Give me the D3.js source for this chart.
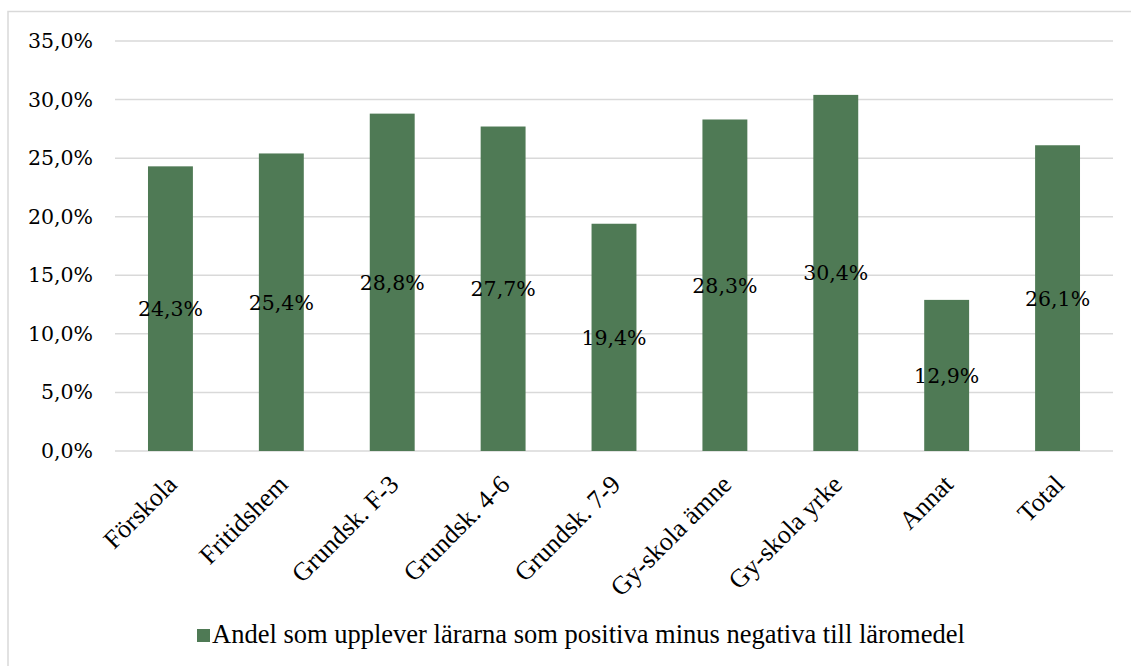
<!DOCTYPE html>
<html><head><meta charset="utf-8">
<script src="https://cdn.jsdelivr.net/npm/d3@7"></script>
<style>body{margin:0;background:#fff}svg{display:block}</style>
</head><body>
<svg id="c" width="1131" height="666"></svg>
<script>
const categories = ["Förskola","Fritidshem","Grundsk. F-3","Grundsk. 4-6","Grundsk. 7-9","Gy-skola ämne","Gy-skola yrke","Annat","Total"];
const values = [24.3,25.4,28.8,27.7,19.4,28.3,30.4,12.9,26.1];
const yTicks = [0,5,10,15,20,25,30,35];
const seriesName = "Andel som upplever lärarna som positiva minus negativa till läromedel";

(function(){
const svg = d3.select("#c");
const W = 1131, H = 666;
const pLeft = 115, pRight = 1113, pTop = 41, pBottom = 451;
const barColor = "#4f7a55";
const numFont = "'DejaVu Serif', Georgia, serif";
const txtFont = "'Liberation Serif', 'Times New Roman', serif";

svg.append("rect").attr("x",8).attr("y",11.5).attr("width",W).attr("height",H)
  .attr("fill","#fff").attr("stroke","#d9d9d9").attr("stroke-width",1.5);

const x = d3.scaleBand().domain(categories).range([pLeft,pRight]).padding(0);
const y = d3.scaleLinear().domain([0,35]).range([pBottom,pTop]);
const fmt = v => d3.format(".1f")(v).replace(".",",") + "%";

const grid = svg.append("g");
grid.selectAll("line").data(yTicks).join("line")
  .attr("x1",pLeft).attr("x2",pRight)
  .attr("y1",d=>y(d)).attr("y2",d=>y(d))
  .attr("stroke","#d9d9d9").attr("stroke-width",1.5);

const yAxis = d3.axisLeft(y).tickValues(yTicks).tickFormat(fmt).tickSize(0).tickPadding(0);
const ya = svg.append("g").attr("transform",`translate(93,0)`).call(yAxis);
ya.select(".domain").remove();
ya.selectAll("text").attr("font-family",numFont).attr("font-size",20.5).attr("fill","#000");

const bw = x.bandwidth()*0.405;
svg.append("g").selectAll("rect").data(values).join("rect")
  .attr("x",(d,i)=>x(categories[i])+x.bandwidth()/2-bw/2)
  .attr("width",bw)
  .attr("y",d=>y(d)).attr("height",d=>y(0)-y(d))
  .attr("fill",barColor);

svg.append("g").selectAll("text").data(values).join("text")
  .attr("x",(d,i)=>x(categories[i])+x.bandwidth()/2)
  .attr("y",d=>(y(d)+y(0))/2)
  .attr("dy","0.36em")
  .attr("text-anchor","middle")
  .attr("font-family",numFont).attr("font-size",20.5).attr("fill","#000")
  .text(fmt);

const xAxis = d3.axisBottom(x).tickSize(0).tickPadding(0);
const xa = svg.append("g").attr("transform",`translate(0,${pBottom})`).call(xAxis);
xa.select(".domain").remove();
xa.selectAll("text")
  .attr("font-family",txtFont).attr("font-size",26).attr("fill","#000")
  .attr("text-anchor","end")
  .attr("y",0).attr("dy",0)
  .attr("transform","translate(8,35) rotate(-45)");

const lg = svg.append("g");
lg.append("rect").attr("x",197).attr("y",629).attr("width",13).attr("height",13).attr("fill",barColor);
lg.append("text").attr("x",212).attr("y",643)
  .attr("font-family",txtFont).attr("font-size",26.5).attr("fill","#000")
  .text(seriesName);
})();
</script>
</body></html>
